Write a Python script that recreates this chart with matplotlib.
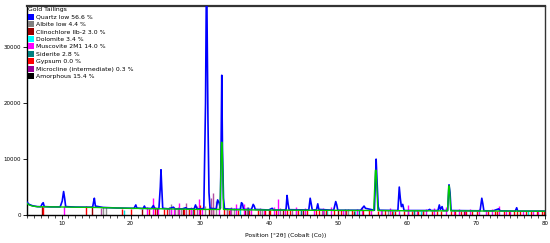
import matplotlib
matplotlib.use("Agg")
import matplotlib.pyplot as plt
from matplotlib.patches import Patch
from matplotlib.ticker import MultipleLocator

# ---- observed pattern (blue) : position [°2θ], counts ----
obs_x = [5.0, 5.3, 5.8, 6.5, 7.0, 7.2, 7.35, 7.5, 8.5, 9.8, 10.1, 10.3, 10.45, 10.6,
         12.0, 13.5, 14.5, 14.65, 14.75, 14.9, 16.0, 18.0, 20.5, 20.75, 20.9, 21.8,
         22.0, 22.15, 23.0, 23.3, 23.5, 24.1, 24.3, 24.4, 24.5, 24.65, 25.5, 26.2,
         26.4, 27.5, 28.0, 28.2, 29.2, 29.4, 29.6, 30.6, 30.85, 30.95, 31.05, 31.2,
         31.35, 31.5, 32.4, 32.6, 32.8, 33.0, 33.1, 33.2, 33.3, 33.45, 33.6, 35.0,
         35.9, 36.05, 36.2, 36.35, 37.5, 37.75, 37.9, 38.05, 40.0, 40.5, 40.7, 42.5,
         42.65, 42.8, 42.95, 45.8, 46.0, 46.15, 46.3, 46.9, 47.1, 47.25, 49.4, 49.7,
         49.85, 50.0, 53.3, 53.8, 54.0, 55.3, 55.55, 55.65, 55.85, 56.0, 58.7, 58.9,
         59.05, 59.2, 59.4, 59.6, 63.0, 63.3, 63.5, 64.5, 64.7, 64.85, 65.1, 65.25,
         65.9, 66.1, 66.25, 66.4, 70.6, 70.85, 71.0, 71.15, 72.5, 73.3, 73.5, 75.7,
         75.9, 76.05, 79.0, 80.0]
obs_y = [2300, 1900, 1650, 1500, 1480, 2000, 2200, 1500, 1450, 1450, 2500, 4200, 3000, 1500,
         1420, 1400, 1400, 2400, 3000, 1600, 1350, 1250, 1200, 1800, 1250, 1150,
         1600, 1200, 1150, 1700, 1150, 1150, 5000, 8100, 5200, 1200, 1100, 1400,
         1100, 1100, 1300, 1100, 1100, 1800, 1100, 1100, 20000, 37500, 37500, 17000,
         4000, 1200, 1100, 2700, 2200, 1200, 12000, 25000, 12000, 3000, 1100, 1000,
         1000, 2200, 2000, 1000, 1000, 1900, 1600, 1000, 900, 1200, 900, 900,
         3500, 2000, 950, 900, 3000, 2000, 900, 900, 2000, 1000, 850, 2400,
         1800, 850, 850, 1600, 1200, 850, 10000, 7000, 1500, 850, 800, 5000,
         3000, 1500, 1900, 800, 800, 1000, 800, 800, 1800, 1000, 1500, 800,
         800, 5400, 4000, 800, 750, 3000, 2000, 750, 750, 1100, 750, 700,
         1300, 700, 700, 700]

# ---- calculated pattern (green) ----
calc_x = [5.0, 5.3, 5.8, 6.5, 10.0, 15.0, 20.0, 25.0, 30.0, 32.95, 33.15, 33.25, 33.45,
          35.0, 40.0, 50.0, 55.2, 55.45, 55.55, 55.8, 60.0, 65.9, 66.05, 66.15, 66.35,
          70.0, 80.0]
calc_y = [2100, 1800, 1600, 1480, 1430, 1350, 1200, 1100, 1000, 1000, 13000, 13000, 1000,
          950, 880, 830, 800, 8000, 8000, 800, 760, 740, 5200, 5200, 740,
          720, 680]

# ---- reference sticks per phase: position [°2θ], counts ----
albite_pos = [16.0, 16.4, 25.9, 26.5, 28.5, 32.3, 35.0, 39.0, 48.0, 51.5, 56.4, 61.0,
              27.3, 30.8, 34.0, 44.0, 57.2]
albite_h = [1400, 1400, 2000, 1300, 1200, 2500, 1200, 1100, 1000, 1000, 900, 900,
            1300, 1600, 1100, 1000, 900]
clino_pos = [7.2, 14.4, 21.7, 29.1, 36.5, 40.0, 45.0, 52.3, 60.2, 23.8, 27.6, 31.4,
             42.0, 50.1, 68.2]
clino_h = [1600, 1700, 1100, 1000, 900, 900, 900, 800, 800, 1200, 1300, 1200,
           900, 850, 750]
dolo_pos = [19.1, 35.9, 48.4, 52.5, 58.0, 62.0, 77.5]
dolo_h = [900, 1800, 900, 800, 800, 800, 800]
musc_pos = [10.3, 23.3, 25.9, 27.0, 29.9, 30.4, 32.8, 35.2, 36.4, 37.4, 40.7, 41.4,
            42.3, 43.9, 45.2, 47.9, 49.0, 52.8, 53.5, 54.8, 57.5, 60.1, 62.8, 64.0,
            65.6, 67.5, 69.1, 70.4, 72.3, 73.3, 74.4, 76.8, 78.2,
            22.4, 24.0, 26.3, 28.8, 34.4, 39.3, 44.7, 46.6, 50.8, 56.2, 58.8,
            61.4, 66.8, 68.4, 71.5, 75.0, 79.0]
musc_h = [1600, 3000, 1200, 2200, 2800, 1500, 1600, 2000, 1900, 1300, 1500, 2900,
          1300, 1400, 1200, 1300, 1500, 1100, 1500, 1000, 1200, 1800, 1000, 1200,
          1500, 1000, 1000, 1000, 1000, 1600, 900, 800, 800,
          1400, 1300, 1500, 1400, 1200, 1100, 1000, 1000, 950, 900, 950,
          900, 900, 850, 850, 850, 800]
sider_pos = [29.0, 37.0, 44.6, 53.0, 61.0, 62.3]
sider_h = [900, 1500, 900, 900, 900, 800]
gyps_pos = [7.3, 13.6, 18.8, 20.1, 22.6, 23.6, 24.9, 26.8, 27.8, 28.5, 29.2, 30.1,
            33.5, 34.2, 38.5, 39.5, 40.2, 43.1, 44.2, 46.8, 48.3, 50.4, 51.2, 52.0,
            54.5, 56.8, 58.3, 60.8, 61.6, 62.4, 63.7, 64.4, 67.0, 67.8, 68.6, 69.5,
            70.2, 71.8, 72.8, 74.0, 74.8, 75.5, 76.4, 77.2, 78.0, 78.8, 79.5,
            25.3, 31.9, 35.5, 37.2, 41.0, 42.6, 45.6, 47.3, 49.5, 53.6, 55.8, 57.8,
            59.6, 65.0, 66.4, 73.0, 76.0, 79.8]
gyps_h = [1500, 1700, 1100, 1100, 1000, 1500, 1000, 1000, 1000, 1000, 1100, 1800,
          1000, 900, 900, 900, 900, 900, 900, 900, 900, 850, 850, 850,
          850, 850, 800, 800, 800, 800, 800, 800, 800, 800, 800, 800,
          750, 750, 750, 750, 750, 750, 750, 700, 700, 700, 700,
          1000, 1100, 950, 950, 900, 900, 900, 850, 850, 850, 800, 800,
          800, 800, 800, 750, 750, 700]
micro_pos = [15.7, 25.5, 26.9, 31.7, 31.95, 34.6, 36.9, 38.8, 41.7, 47.7, 51.0,
             28.0, 29.6, 33.9, 43.4]
micro_h = [1300, 1400, 1500, 3000, 4000, 1400, 1500, 1200, 1200, 1100, 1000,
           2200, 1600, 1300, 1000]

legend_labels = ["Quartz low 56.6 %", "Albite low 4.4 %", "Clinochlore IIb-2 3.0 %",
                 "Dolomite 3.4 %", "Muscovite 2M1 14.0 %", "Siderite 2.8 %",
                 "Gypsum 0.0 %", "Microcline (intermediate) 0.3 %", "Amorphous 15.4 %"]
legend_colors = ["#0000ff", "#808080", "#990000", "#00ffff", "#ff00ff", "#008080",
                 "#ff0000", "#990099", "#000000"]

fig = plt.figure(figsize=(5.5, 2.43), dpi=100)
ax = fig.add_axes([27/550, 1-215/243, 518/550, 209/243])

sticks = [(albite_pos, albite_h, "#909090"), (clino_pos, clino_h, "#990000"),
          (dolo_pos, dolo_h, "#00e0e0"), (musc_pos, musc_h, "#ff00ff"),
          (sider_pos, sider_h, "#008080"), (gyps_pos, gyps_h, "#ff0000"),
          (micro_pos, micro_h, "#b050a0")]
for pos, h, c in sticks:
    ax.vlines(pos, 0, h, colors=c, lw=1.0, zorder=1)

ax.plot(obs_x, obs_y, color="#0000ff", lw=1.2, zorder=3)
ax.plot(calc_x, calc_y, color="#00cc00", lw=1.0, zorder=4)

ax.set_xlim(5, 80)
ax.set_ylim(0, 37400)
ax.xaxis.set_major_locator(MultipleLocator(10))
ax.xaxis.set_minor_locator(MultipleLocator(1))
ax.set_yticks([0, 10000, 20000, 30000])
ax.tick_params(axis="both", which="major", labelsize=4, length=3, width=0.6, pad=1.5)
ax.tick_params(axis="x", which="minor", length=2, width=0.5)
for s in ["left", "bottom", "right"]:
    ax.spines[s].set_linewidth(1.0)
ax.spines["top"].set_linewidth(1.6)
ax.spines["top"].set_color("#333333")
ax.spines["right"].set_color("#333333")
ax.set_xlabel("Position [°2θ] (Cobalt (Co))", fontsize=4.3, labelpad=5)

handles = [Patch(facecolor=c, edgecolor="none") for c in legend_colors]
leg = ax.legend(handles, legend_labels, title="Gold Tailings", loc="upper left",
                bbox_to_anchor=(0.0, 1.0), frameon=False, fontsize=4.4,
                title_fontsize=4.4, handlelength=1.0, handleheight=1.15,
                labelspacing=0.22, handletextpad=0.3, borderpad=0.1,
                borderaxespad=0.1, alignment="left")
leg.set_zorder(10)

fig.savefig("out.png", dpi=100)
